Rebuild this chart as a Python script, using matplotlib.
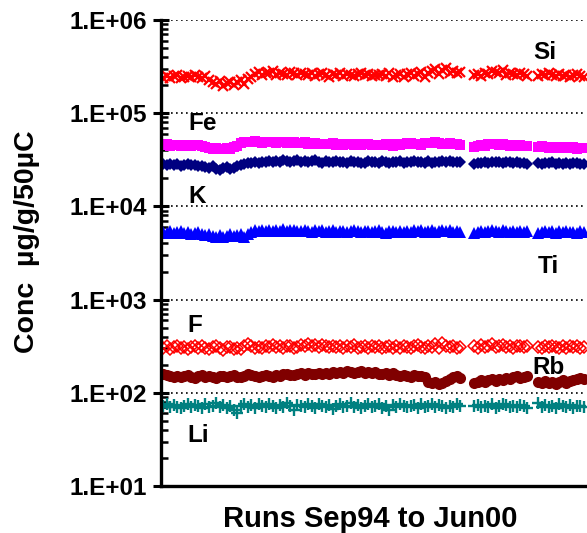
import numpy as np
import matplotlib
matplotlib.use("Agg")
import matplotlib.pyplot as plt
from matplotlib.ticker import LogLocator, FuncFormatter, NullFormatter

nan = np.nan

# ── Data (one value per run) ─────────────────────────────────────────────────
si = [240, 252, 236, 248, 256, 238, 244, 251, 242, 258,
      246, 237, 250, 228, 214, 204, 219, 198, 209, 217,
      202, 214, 226, 207, 231, 243, 262, 276, 254, 270,
      268, 281, 257, 272, 264, 259, 277, 267, 254, 271,
      261, 255, 268, 250, 263, 272, 258, 247, 266, 260,
      270, 252, 264, 256, 248, 262, 271, 259, 266, 253,
      260, 255, 263, 251, 269, 247, 258, 266, 244, 262,
      270, 253, 261, 275, 242, 268, 283, 296, 264, 288,
      306, 272, 285, 268, 279, nan, nan, nan, 258, 266,
      250, 271, 262, 284, 276, 268, 290, 259, 273, 264,
      255, 270, 262, 251, nan, nan, 248, 262, 255, 270,
      258, 249, 266, 253, 260, 245, 257, 263, 250, 242]   # x1000

fe = [45.5, 46.2, 44.8, 45.1, 46.0, 44.5, 45.3, 45.8, 44.9, 46.1,
      45.2, 44.6, 43.5, 42.0, 41.2, 42.5, 40.8, 41.6, 42.8, 41.4,
      43.0, 44.5, 47.8, 48.9, 49.5, 48.6, 49.8, 49.2, 48.4, 49.6,
      48.8, 49.4, 48.2, 49.0, 48.6, 47.9, 48.8, 49.3, 48.1, 47.6,
      48.5, 47.2, 46.8, 47.5, 46.4, 47.0, 46.2, 46.9, 47.4, 46.0,
      46.6, 45.8, 46.3, 47.1, 45.9, 46.5, 45.4, 46.2, 46.8, 45.6,
      46.1, 45.3, 46.0, 46.7, 45.5, 44.9, 46.3, 45.7, 46.9, 47.5,
      48.0, 47.3, 46.4, 45.2, 47.8, 48.4, 47.6, 48.9, 48.1, 47.2,
      46.8, 47.5, 46.2, 46.9, 46.0, nan, nan, nan, 43.9, 44.6,
      45.1, 44.3, 46.2, 47.0, 46.4, 45.8, 46.6, 45.2, 44.8, 45.5,
      44.9, 45.6, 44.4, 45.0, nan, nan, 43.6, 44.2, 43.1, 42.8,
      43.5, 42.6, 43.2, 42.4, 43.0, 42.2, 42.9, 41.8, 42.5, 41.9]   # x1000

k = [28.2, 27.6, 28.8, 27.9, 28.4, 27.3, 28.0, 28.6, 27.5, 28.1,
     27.4, 26.8, 26.2, 25.6, 26.9, 25.1, 24.8, 25.9, 26.5, 25.4,
     26.1, 27.0, 27.8, 28.6, 29.4, 28.9, 29.8, 29.1, 30.2, 29.6,
     30.5, 29.9, 31.0, 30.3, 31.2, 30.6, 29.8, 30.9, 31.4, 30.2,
     30.8, 29.7, 30.4, 31.1, 30.0, 29.5, 30.6, 29.9, 30.3, 31.0,
     29.6, 30.2, 29.4, 30.7, 29.8, 30.1, 28.9, 29.5, 30.4, 29.7,
     30.0, 29.3, 30.6, 29.8, 29.2, 30.3, 29.6, 30.9, 29.4, 30.1,
     29.7, 30.5, 29.9, 30.2, 29.1, 30.8, 29.5, 30.3, 29.8, 30.6,
     29.9, 30.4, 29.6, 30.1, 29.7, nan, nan, nan, 28.8, 29.5,
     29.0, 30.2, 29.4, 29.9, 30.3, 29.6, 28.9, 29.8, 30.1, 29.3,
     29.7, 29.1, 29.5, 28.7, nan, nan, 29.2, 28.6, 29.4, 28.9,
     29.6, 28.8, 29.3, 28.5, 29.1, 28.7, 29.4, 28.9, 28.3, 28.8]   # x1000

ti = [5.35, 5.22, 5.41, 5.18, 5.30, 5.46, 5.12, 5.28, 5.05, 5.20,
      5.32, 5.10, 4.92, 5.05, 4.80, 4.72, 4.95, 4.68, 4.85, 5.02,
      4.78, 4.90, 5.10, 4.75, 5.05, 5.30, 5.52, 5.38, 5.60, 5.45,
      5.58, 5.40, 5.65, 5.50, 5.72, 5.44, 5.56, 5.62, 5.38, 5.50,
      5.60, 5.45, 5.35, 5.52, 5.41, 5.58, 5.33, 5.47, 5.55, 5.36,
      5.50, 5.42, 5.28, 5.46, 5.55, 5.38, 5.30, 5.48, 5.40, 5.25,
      5.44, 5.52, 5.36, 5.20, 5.45, 5.38, 5.28, 5.50, 5.34, 5.42,
      5.30, 5.55, 5.40, 5.62, 5.35, 5.48, 5.58, 5.32, 5.46, 5.65,
      5.38, 5.52, 5.28, 5.44, 5.36, nan, nan, nan, 5.22, 5.35,
      5.40, 5.28, 5.50, 5.62, 5.45, 5.30, 5.52, 5.38, 5.26, 5.44,
      5.35, 5.48, 5.25, 5.40, nan, nan, 5.18, 5.32, 5.45, 5.28,
      5.38, 5.22, 5.42, 5.30, 5.46, 5.25, 5.35, 5.20, 5.40, 5.28]   # x1000

f = [305, 315, 298, 310, 320, 302, 312, 296, 308, 318,
     300, 314, 306, 295, 310, 318, 302, 290, 308, 312,
     298, 304, 296, 315, 338, 320, 300, 312, 305, 318,
     310, 322, 308, 316, 302, 314, 320, 306, 312, 325,
     318, 330, 315, 322, 310, 326, 314, 308, 320, 312,
     316, 305, 318, 310, 322, 300, 312, 318, 306, 314,
     308, 316, 302, 312, 320, 306, 314, 300, 318, 310,
     304, 316, 322, 310, 300, 318, 312, 330, 306, 340,
     315, 308, 320, 302, 312, nan, nan, nan, 318, 305,
     325, 312, 320, 330, 308, 316, 322, 310, 318, 306,
     314, 320, 308, 316, nan, nan, 310, 302, 316, 308,
     320, 312, 305, 318, 300, 314, 308, 316, 302, 310]

rb = [160, 155, 150, 148, 152, 146, 150, 154, 149, 145,
      151, 156, 148, 152, 147, 144, 150, 153, 146, 151,
      155, 149, 146, 152, 158, 154, 150, 147, 153, 156,
      150, 148, 155, 152, 158, 160, 156, 154, 159, 162,
      157, 163, 160, 158, 165, 161, 164, 159, 166, 162,
      168, 164, 170, 166, 162, 168, 172, 165, 169, 163,
      167, 160, 158, 164, 156, 162, 154, 150, 156, 152,
      148, 155, 150, 153, 147, 130, 126, 132, 124, 128,
      135, 142, 148, 152, 145, nan, nan, nan, 128, 132,
      136, 130, 138, 142, 134, 140, 137, 144, 139, 146,
      150, 143, 148, 152, nan, nan, 130, 126, 134, 128,
      132, 125, 130, 136, 128, 134, 138, 140, 145, 142]

li = [72, 75, 70, 74, 71, 68, 73, 76, 70, 74,
      72, 69, 75, 71, 73, 77, 70, 74, 68, 72,
      65, 60, 73, 76, 71, 74, 69, 75, 72, 70,
      76, 73, 68, 74, 71, 77, 72, 66, 74, 73,
      70, 75, 72, 69, 76, 73, 71, 74, 67, 72,
      75, 70, 73, 77, 71, 74, 68, 72, 75, 70,
      73, 76, 69, 72, 66, 74, 71, 75, 73, 70,
      72, 74, 68, 76, 71, 73, 75, 70, 74, 72,
      69, 73, 71, 75, 72, nan, nan, nan, 72, 74,
      70, 73, 71, 75, 68, 72, 76, 74, 71, 73,
      70, 74, 72, 69, nan, nan, 78, 71, 74, 70,
      73, 69, 75, 72, 71, 74, 68, 73, 72, 70]

runs = np.arange(len(si))

# ── Figure ───────────────────────────────────────────────────────────────────
plt.rcParams["font.family"] = ["Liberation Sans", "DejaVu Sans"]
plt.rcParams["font.weight"] = "bold"

fig = plt.figure(figsize=(5.87, 5.33), dpi=100)
ax = fig.add_axes([161 / 587, 47 / 533, 425 / 587, 466 / 533])

ax.plot(runs, np.array(si) * 1e3, ls="none", marker="x", ms=7.5, mew=1.6, color="#FF0000")
ax.plot(runs, np.array(fe) * 1e3, ls="none", marker="s", ms=7.5, mew=0, color="#FF00FF")
ax.plot(runs, np.array(k) * 1e3, ls="none", marker="D", ms=6, mew=0, color="#000080")
ax.plot(runs, np.array(ti) * 1e3, ls="none", marker="^", ms=8.5, mew=0, color="#0000FF")
ax.plot(runs, f, ls="none", marker="D", ms=6, mew=1.1, mfc="none", color="#FF0000")
ax.plot(runs, rb, ls="none", marker="o", ms=8, mew=0, color="#800000")
ax.plot(runs, li, ls="none", marker="+", ms=9, mew=1.7, color="#008080")

ax.set_yscale("log")
ax.set_ylim(10, 1e6)
ax.set_xlim(-0.57, 119.57)

# Gridlines at each decade
ax.yaxis.grid(True, which="major", color="black", ls=(0, (1, 2)), lw=1.2)
ax.set_axisbelow(True)

ax.yaxis.set_major_locator(LogLocator(base=10, numticks=10))
ax.yaxis.set_minor_locator(LogLocator(base=10, subs=np.arange(2, 10), numticks=20))
ax.yaxis.set_minor_formatter(NullFormatter())
ax.yaxis.set_major_formatter(FuncFormatter(lambda v, p: f"1.E+{int(round(np.log10(v))):02d}"))
ax.tick_params(axis="y", which="major", direction="inout", length=12, width=2.2,
               labelsize=17.5, pad=4)
ax.tick_params(axis="y", which="minor", direction="in", length=5, width=1.8)
ax.tick_params(axis="x", bottom=False, labelbottom=False)
for lbl in ax.get_yticklabels():
    lbl.set_fontweight("bold")

for side in ("top", "right"):
    ax.spines[side].set_visible(False)
for side in ("left", "bottom"):
    ax.spines[side].set_linewidth(2.4)

# Element labels
labels = [("Si", 108, 4.44e5), ("Fe", 11.3, 7.7e4), ("K", 9.7, 1.29e4),
          ("Ti", 108.9, 2.24e3), ("F", 9.1, 525), ("Rb", 109, 185), ("Li", 10.0, 35)]
for name, xi, yv in labels:
    ax.text(xi, yv, name, fontsize=17.5, fontweight="bold", ha="center", va="center")

fig.text(27 / 587, 1 - 242 / 533, "Conc  µg/g/50µC", rotation=90, fontsize=20.5,
         fontweight="bold", ha="center", va="center")
fig.text(370 / 587, 1 - 519 / 533, "Runs Sep94 to Jun00", fontsize=21,
         fontweight="bold", ha="center", va="center")

fig.savefig("out.png", dpi=100)
